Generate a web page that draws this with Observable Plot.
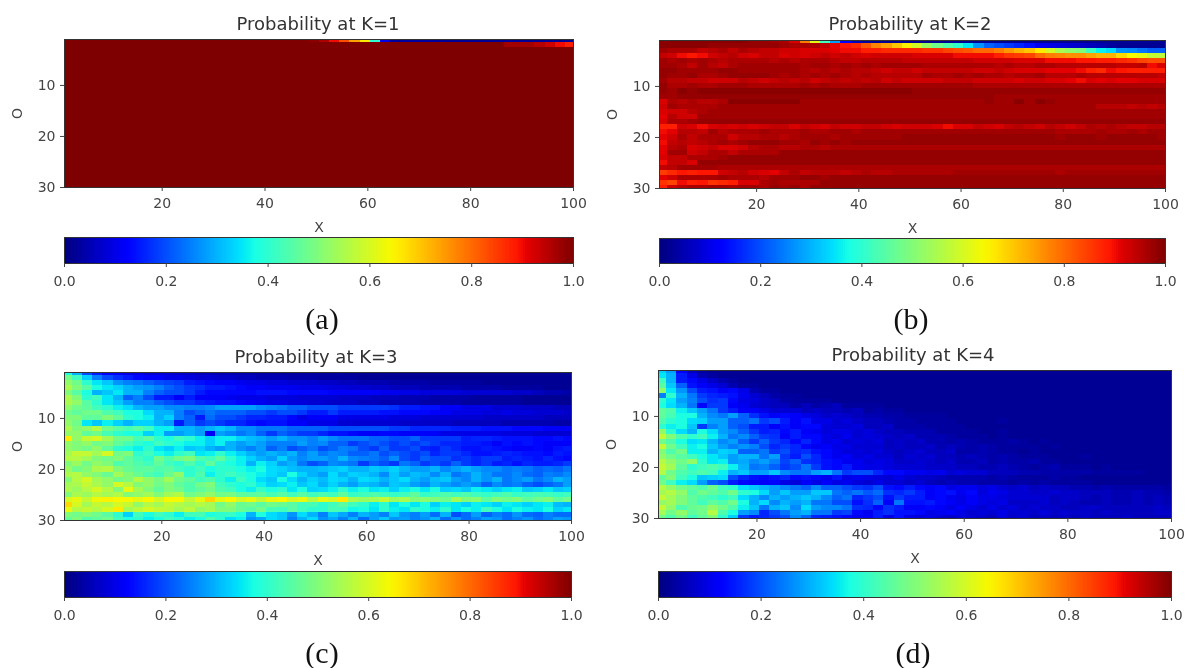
<!DOCTYPE html>
<html><head><meta charset="utf-8">
<script src="https://cdn.jsdelivr.net/npm/d3@7"></script>
<script src="https://cdn.jsdelivr.net/npm/@observablehq/plot@0.6"></script>
<style>
html,body{margin:0;padding:0;background:#fff}
#page{position:relative;width:1190px;height:668px;overflow:hidden;background:#fff;filter:blur(0.45px)}
#page svg{position:absolute;overflow:visible}
.t{position:absolute;font-family:"DejaVu Sans";font-size:18px;color:#333;transform:translateX(-50%);white-space:nowrap;line-height:1}
.c{position:absolute;font-family:"Liberation Serif";font-size:30px;color:#111;transform:translateX(-50%);line-height:1}
</style></head><body><div id="page"></div>
<script>
const xTicks=[20,40,60,80,100], yTicks=[10,20,30], barTicks=[0,0.2,0.4,0.6,0.8,1];
const titles=["Probability at K=1","Probability at K=2","Probability at K=3","Probability at K=4"];
const captions=["(a)","(b)","(c)","(d)"];
const solid=Array(50).fill(100);
const k1Rows=[
[100,100,100,100,100,100,100,100,100,100,100,100,100,100,100,100,100,100,100,100,100,100,100,100,99, 96,90,83,74,66,40,10,3,3,3,3,3,2,2,2,2,2,2,2,2,2,2,2,2,2],
[100,100,100,100,100,100,100,100,100,100,100,100,100,100,100,100,100,100,100,100,100,100,100,100,100, 100,100,100,100,100,100,100,100,100,100,100,100,100,100,100,100,100,100,97,97,97,95,93,90,88],
solid,solid,solid,solid,solid,solid,solid,solid,solid,solid,solid,solid,solid,solid,solid,solid,solid,solid,solid,solid,solid,solid,solid,solid,solid,solid,solid,solid];
const k2Rows=[
[99,99,99,99,99,99,99,99,99,98,98,97,96,92,78,62,42,28,12,6,3,2,2,2,2, 2,2,2,2,2,2,2,2,2,2,2,2,2,2,2,2,2,2,2,2,2,2,2,2,2],
[99,99,99,99,99,98,98,98,98,98,98,98,97,96,96,96,94,91,89,87,82,77,74,70,65, 60,53,48,44,40,35,27,22,20,18,16,14,11,10,9,8,7,6,5,3,2,2,2,2,2],
[97,96,96,96,94,95,96,94,96,95,94,94,93,93,92,92,92,91,90,90,88,88,87,87,87, 87,86,86,84,83,82,80,80,78,75,72,70,66,60,55,52,50,42,36,34,27,26,24,22,22],
[94,93,90,89,90,93,94,95,93,92,94,94,92,93,92,93,94,93,94,93,92,93,93,93,93, 92,92,92,92,90,90,90,90,88,86,85,84,80,78,77,76,76,74,72,72,68,64,62,58,57],
[97,96,97,96,97,96,95,96,96,96,96,95,96,95,96,96,96,95,94,94,95,95,95,95,94, 94,94,94,94,94,94,93,93,93,93,92,92,92,90,90,90,89,89,88,88,87,86,84,83,83],
[97,97,96,94,97,95,94,96,97,97,97,97,97,97,96,97,97,96,97,96,97,96,97,97,97, 97,96,96,96,96,96,96,96,95,96,95,95,96,96,95,95,95,95,95,95,94,94,95,90,92],
[98,98,97,97,97,97,98,98,97,97,97,97,97,97,96,95,96,95,96,95,95,94,93,94,94, 93,94,94,94,94,94,93,93,94,93,92,92,92,91,91,91,90,88,87,90,89,88,88,88,88],
[98,97,97,98,96,96,97,98,98,98,98,97,96,97,96,97,96,97,96,95,96,95,95,95,95, 95,97,96,96,97,96,97,96,96,95,96,96,97,95,95,95,96,95,95,95,95,95,95,95,94],
[97,95,95,94,94,93,93,93,95,94,93,94,95,94,95,93,94,95,94,95,94,95,93,94,93, 93,93,93,94,94,94,93,93,93,93,92,93,93,92,92,91,90,92,91,92,91,91,92,92,92],
[98,96,96,97,96,96,97,97,97,96,96,96,96,96,97,96,97,96,96,96,97,97,97,97,97, 97,97,97,97,97,97,96,96,96,96,96,96,96,96,96,96,96,96,96,96,96,96,96,96,96],
[98,97,99,98,99,99,99,99,99,99,99,99,99,99,99,99,99,99,99,99,99,99,99,99,99, 98,98,98,98,98,98,98,98,98,98,98,98,98,98,98,98,98,98,98,98,98,98,98,98,98],
[97,97,98,98,98,98,98,98,98,98,98,98,98,98,98,98,98,98,98,98,98,98,98,98,98, 98,98,98,98,98,98,98,98,97,97,97,97,97,97,97,97,97,97,97,97,97,97,97,97,97],
[92,96,95,96,95,95,96,99,99,99,99,99,99,99,97,97,97,97,97,97,97,97,97,97,97, 97,97,97,97,97,97,97,98,97,97,99,97,99,98,97,97,97,97,97,97,97,97,97,97,97],
[93,97,96,96,96,96,97,97,97,97,97,97,97,97,97,97,97,97,97,97,97,97,97,97,97, 97,97,97,97,97,97,97,97,97,97,97,97,97,97,97,97,97,97,95,95,95,94,95,94,95],
[92,93,93,95,96,97,97,97,97,97,97,97,97,97,97,97,97,97,97,97,97,97,97,97,97, 97,97,97,97,97,97,97,97,97,97,97,97,97,97,97,97,97,97,97,97,97,97,97,97,97],
[91,95,93,93,97,97,97,97,97,97,97,97,97,97,97,97,97,97,97,97,97,97,97,97,97, 97,97,97,97,97,97,97,97,97,97,97,97,97,97,97,97,97,97,97,97,97,97,97,97,97],
[92,96,96,97,98,98,98,98,98,98,98,98,98,98,98,98,98,98,98,98,98,98,98,98,98, 98,98,98,98,98,98,98,98,98,98,98,98,98,98,98,98,98,98,98,98,98,98,98,98,98],
[88,88,93,92,90,92,93,92,93,92,93,94,94,92,94,93,92,94,93,93,94,94,93,92,93, 93,93,92,90,92,92,94,93,92,94,95,94,93,95,94,93,94,96,95,96,95,94,94,95,95],
[90,91,95,95,94,97,95,96,96,96,97,96,96,96,97,96,96,97,97,96,97,97,97,97,97, 97,97,97,97,97,97,97,97,97,97,97,97,97,97,96,96,96,96,97,96,96,97,96,97,97],
[91,93,96,94,96,96,96,93,95,95,96,96,95,96,97,97,97,96,97,97,97,97,97,97,98, 98,98,98,98,98,98,98,98,98,98,98,98,98,98,97,98,98,98,97,98,98,98,98,98,97],
[90,94,95,94,95,96,97,96,97,98,98,98,97,97,96,98,97,98,97,98,98,98,98,98,98, 98,98,98,98,98,98,98,98,98,98,98,98,98,98,98,98,98,98,98,98,98,98,98,98,98],
[91,95,96,92,93,94,92,92,93,95,96,96,95,95,96,96,95,96,96,96,96,96,96,96,96, 96,96,96,96,96,96,96,96,96,96,96,96,96,96,96,96,96,96,96,96,96,96,96,96,96],
[91,97,97,93,94,96,96,94,96,96,96,96,98,98,98,98,98,98,98,98,98,98,98,98,98, 98,98,98,98,98,98,98,98,98,98,98,98,98,98,98,98,98,98,98,98,98,98,98,98,98],
[92,94,94,96,96,96,97,98,98,98,98,98,98,98,98,98,98,98,98,98,98,98,98,98,98, 98,98,98,98,98,98,98,98,98,98,98,98,98,98,98,98,98,98,98,98,98,98,98,98,98],
[90,94,94,92,98,98,98,98,98,98,98,98,98,98,98,98,98,98,98,98,98,98,98,98,98, 98,98,98,98,98,98,98,98,98,98,98,98,98,98,98,98,98,98,98,98,98,98,98,98,98],
[94,95,97,97,97,97,96,96,96,96,96,96,96,96,96,96,96,96,96,96,96,96,96,96,96, 96,96,96,96,96,96,96,96,96,96,96,96,96,96,96,96,96,96,96,96,96,96,96,96,96],
[85,87,89,88,89,89,93,94,95,93,92,91,94,96,94,95,95,95,94,95,96,95,95,96,96, 96,96,96,96,97,97,97,97,97,97,97,97,97,97,96,97,97,97,97,97,97,97,97,97,97],
[91,93,96,96,96,96,97,96,96,96,95,97,97,97,98,98,97,98,98,98,98,98,98,98,98, 98,98,98,98,98,98,98,98,98,98,98,98,98,98,98,98,98,98,98,98,98,98,98,98,98],
[86,84,90,88,89,86,87,88,92,92,96,97,96,96,96,96,98,98,98,98,98,98,98,98,98, 98,98,98,98,98,98,98,98,98,98,98,98,98,98,98,98,98,98,98,98,98,98,98,98,98],
[88,93,95,96,96,97,97,96,97,97,96,98,97,98,96,98,98,98,98,98,98,98,98,98,98, 98,98,98,98,98,98,98,98,98,98,98,98,98,98,98,98,98,98,98,98,98,98,98,98,98]];
const k3Rows=[
[38,30,20,15,12,12,10,10,8,8,8,7,7,6,6,5,5,5,4,4,4,3,3,3,3, 3,3,3,2,2,2,2,2,2,2,2,2,2,2,2,2,2,2,2,2,2,2,2,2,2],
[48,42,33,25,20,17,15,13,12,12,10,10,9,8,8,7,7,6,6,5,5,5,4,4,4, 3,3,3,3,2,2,2,2,2,2,2,2,2,2,2,2,2,2,2,2,2,2,2,2,2],
[52,48,40,35,32,27,25,24,22,20,19,18,15,14,13,12,12,11,10,10,9,9,8,8,8, 7,7,6,6,5,5,5,4,4,4,4,3,3,3,3,3,2,2,2,2,2,2,2,2,2],
[55,50,45,38,35,33,30,28,27,25,22,20,18,17,15,15,14,13,12,12,11,11,11,10,10, 10,9,9,8,8,7,7,6,6,6,5,5,5,5,4,4,4,4,3,3,3,3,2,2,2],
[50,45,38,30,32,35,30,30,25,22,20,20,18,15,13,13,13,13,13,14,14,14,13,13,13, 13,12,12,12,12,12,11,11,10,10,9,9,9,9,8,8,8,8,8,7,7,6,5,5,4],
[55,50,40,42,35,30,22,25,20,15,15,12,15,12,12,12,11,10,10,10,9,9,9,8,8, 8,8,7,7,7,6,6,6,5,5,5,4,4,4,4,3,3,3,3,3,2,2,2,2,2],
[55,52,45,40,35,32,28,25,25,22,20,18,18,16,15,14,14,13,12,11,10,10,9,9,8, 8,7,7,7,6,6,5,5,5,5,4,4,4,4,3,3,3,3,3,3,2,2,2,2,2],
[52,48,46,42,40,36,34,30,28,28,26,26,25,25,26,28,28,28,28,26,25,24,22,22,20, 20,20,18,18,18,18,18,17,15,15,14,14,12,12,10,10,10,8,8,8,7,7,7,6,6],
[48,46,48,48,44,42,38,38,34,30,30,25,20,22,24,22,22,22,20,20,18,20,20,18,15, 15,18,15,15,15,15,14,14,13,13,13,12,12,10,10,10,9,9,10,9,9,8,8,8,7],
[50,50,46,46,50,46,40,38,36,30,33,25,22,15,23,20,20,18,16,16,15,15,13,10,12, 12,12,10,10,10,10,10,9,9,9,8,8,8,8,8,8,7,7,7,7,7,7,6,6,6],
[52,48,35,32,36,33,30,33,33,30,28,15,22,18,20,18,16,16,14,13,14,14,12,12,10, 10,10,8,8,8,8,8,8,7,7,7,7,7,6,6,6,6,6,5,5,5,5,5,4,4],
[55,50,52,56,48,45,43,45,42,36,36,30,30,28,30,32,30,26,26,24,24,24,22,22,22, 22,20,20,20,20,20,20,18,18,16,16,16,16,15,15,15,14,14,14,13,13,13,12,12,12],
[52,52,46,48,43,40,38,38,33,36,28,28,30,28,12,28,26,24,26,22,18,22,20,18,18, 16,14,14,13,12,12,13,13,12,12,12,12,10,10,10,10,10,10,9,9,9,8,8,8,8],
[66,52,58,60,54,48,48,43,46,40,38,42,40,36,33,36,36,33,31,30,28,30,27,27,25, 28,26,24,24,24,22,22,20,20,22,18,18,18,18,15,16,16,15,14,14,14,13,13,14,13],
[52,50,52,48,50,46,43,40,38,42,40,38,36,36,33,36,30,28,30,28,25,25,25,28,25, 26,22,22,18,20,22,20,18,20,18,20,18,16,16,15,15,14,12,14,13,14,13,12,12,12],
[52,50,48,52,46,40,38,36,40,35,33,36,32,33,30,28,30,27,25,28,22,25,20,22,24, 20,22,25,24,20,18,22,18,18,20,16,15,18,16,14,14,15,14,13,12,12,13,12,14,15],
[54,58,58,54,60,48,50,40,42,38,36,40,42,35,36,40,36,33,30,28,30,28,30,25,28, 24,26,25,22,22,24,20,22,20,18,20,16,18,18,16,14,14,15,16,15,14,14,13,15,14],
[56,56,54,50,48,50,46,42,40,48,44,48,50,44,42,46,40,36,33,30,28,33,28,26,28, 28,26,30,26,25,24,22,26,20,18,22,20,20,17,18,16,18,18,15,16,15,14,16,14,13],
[50,53,48,52,50,44,46,44,42,46,42,40,44,40,46,40,38,36,30,36,33,28,30,24,20, 22,26,25,24,18,22,20,18,24,22,18,20,18,22,18,16,18,15,16,14,16,15,15,16,18],
[53,48,50,55,56,50,47,45,46,44,45,42,40,42,38,40,40,38,36,38,34,33,31,30,30, 31,32,33,30,30,32,31,33,30,28,28,30,26,28,30,28,26,26,24,25,24,22,23,22,24],
[55,56,52,50,47,54,50,47,44,42,47,52,40,44,36,40,42,40,38,36,34,32,38,33,30, 28,34,30,33,32,30,26,32,28,31,30,26,30,24,26,30,27,24,24,26,23,22,25,24,26],
[50,56,60,54,52,48,50,56,52,49,54,48,46,42,44,40,36,42,38,34,32,38,34,30,33, 31,34,33,30,34,33,30,32,34,30,28,31,32,28,26,30,27,30,24,26,28,24,26,30,28],
[54,55,58,55,52,60,56,50,52,48,50,46,44,48,50,42,40,38,40,36,33,34,36,32,34, 30,33,30,28,31,30,28,32,31,28,26,30,28,26,28,26,22,26,24,25,22,20,22,24,28],
[55,53,56,60,56,50,62,54,50,46,50,48,44,46,48,44,42,38,36,41,38,40,35,38,33, 34,36,40,36,38,35,36,33,36,38,35,38,33,34,32,36,35,33,35,36,32,33,35,32,33],
[50,55,53,56,54,56,50,52,54,50,54,56,48,50,52,48,49,46,45,46,43,45,42,45,42, 44,42,46,41,42,44,42,41,42,46,41,42,44,42,44,42,41,42,44,41,42,43,42,41,42],
[60,62,58,63,65,64,64,62,64,60,64,64,58,62,68,62,64,60,62,58,62,64,60,62,56, 62,60,66,55,53,54,58,53,55,50,51,50,48,54,50,51,46,50,48,50,46,48,50,46,48],
[68,60,54,58,56,60,58,52,56,54,58,56,54,56,54,48,52,47,48,45,48,47,45,42,43, 40,42,45,42,40,36,40,35,38,35,38,33,36,35,33,36,35,33,36,35,33,35,36,31,30],
[62,56,58,56,60,66,54,57,60,58,57,54,57,52,54,50,50,47,45,48,43,42,45,42,40, 40,43,42,37,38,35,40,36,35,40,38,36,40,35,38,36,42,38,35,38,36,35,38,33,35],
[50,48,50,48,45,40,33,42,38,42,40,36,42,43,38,40,41,38,30,38,34,32,27,34,30, 25,32,29,25,30,28,25,32,27,25,28,23,30,20,23,28,22,25,23,27,23,22,25,23,23],
[46,50,44,46,48,42,38,40,36,38,42,40,36,38,44,40,34,36,27,29,34,32,25,30,34, 27,29,25,30,23,28,32,27,28,25,27,30,23,27,23,25,28,27,23,25,27,23,25,28,27]];
const k4Rows=[
[33,28,12,6,3,2,2,2,2,2,2,2,2,2,2,2,2,2,2,2,2,2,2,2,2, 2,2,2,2,2,2,2,2,2,2,2,2,2,2,2,2,2,2,2,2,2,2,2,2,2],
[35,30,15,10,5,3,2,2,2,2,2,2,2,2,2,2,2,2,2,2,2,2,2,2,2, 2,2,2,2,2,2,2,2,2,2,2,2,2,2,2,2,2,2,2,2,2,2,2,2,2],
[42,30,15,13,10,7,5,3,2,2,2,2,2,2,2,2,2,2,2,2,2,2,2,2,2, 2,2,2,2,2,2,2,2,2,2,2,2,2,2,2,2,2,2,2,2,2,2,2,2,2],
[45,32,22,14,12,10,8,5,3,3,2,2,2,2,2,2,2,2,2,2,2,2,2,2,2, 2,2,2,2,2,2,2,2,2,2,2,2,2,2,2,2,2,2,2,2,2,2,2,2,2],
[52,35,27,20,15,14,12,13,10,5,3,3,2,2,2,2,2,2,2,2,2,2,2,2,2, 2,2,2,2,2,2,2,2,2,2,2,2,2,2,2,2,2,2,2,2,2,2,2,2,2],
[25,40,30,24,18,16,15,14,11,8,6,4,3,3,2,2,2,2,2,2,2,2,2,2,2, 2,2,2,2,2,2,2,2,2,2,2,2,2,2,2,2,2,2,2,2,2,2,2,2,2],
[40,35,28,25,20,17,18,13,10,9,7,6,4,3,3,3,3,2,2,2,2,2,2,2,2, 2,2,2,2,2,2,2,2,2,2,2,2,2,2,2,2,2,2,2,2,2,2,2,2,2],
[38,34,30,24,13,18,18,12,11,8,7,6,6,4,6,4,5,6,3,3,3,3,2,2,2, 2,2,2,2,2,2,2,2,2,2,2,2,2,2,2,2,2,2,2,2,2,2,2,2,2],
[46,44,36,32,28,24,18,15,12,12,10,8,8,8,6,7,6,6,5,6,3,4,3,3,2, 2,2,2,2,2,2,2,2,2,2,2,2,2,2,2,2,2,2,2,2,2,2,2,2,2],
[46,43,38,38,30,26,24,28,22,17,14,12,13,12,10,9,7,8,7,6,5,5,4,4,3, 3,3,3,2,2,2,2,2,2,2,2,2,2,2,2,2,2,2,2,2,2,2,2,2,2],
[44,40,38,34,33,28,28,22,22,24,18,20,15,12,14,10,10,8,9,7,6,6,5,4,4, 3,3,3,3,2,2,2,2,3,2,2,2,2,2,2,2,2,2,2,2,2,2,2,2,2],
[40,36,38,32,18,25,28,22,20,15,15,12,14,12,13,13,9,8,8,9,6,6,7,4,4, 4,3,3,3,3,2,2,2,2,2,2,2,2,2,2,2,2,2,2,2,2,2,2,2,2],
[52,40,34,30,38,34,28,26,22,18,15,16,13,15,12,11,9,10,10,8,9,7,6,6,5, 5,5,3,3,3,3,2,2,3,2,2,2,2,2,2,2,2,2,2,2,2,2,2,2,2],
[58,50,44,40,42,36,30,24,26,22,18,17,12,15,13,13,10,9,11,8,9,8,7,6,7, 5,5,5,4,3,3,3,2,3,2,2,2,2,2,2,2,2,2,2,2,2,2,2,2,2],
[48,44,38,34,35,30,26,28,22,18,22,18,16,13,16,13,10,11,8,9,8,9,6,7,6, 7,5,5,4,5,4,3,3,3,4,3,2,3,2,2,2,2,2,2,2,2,2,2,2,2],
[58,48,42,36,38,32,28,25,27,25,20,16,18,16,13,11,12,10,10,8,8,8,6,7,6, 6,7,5,6,5,4,5,4,3,3,3,3,2,3,2,2,2,2,2,2,2,2,2,2,2],
[50,44,48,36,36,30,33,32,22,22,24,18,20,16,17,14,13,11,9,9,8,9,7,6,7, 8,6,6,7,4,4,5,4,3,3,2,3,2,2,2,2,2,2,2,2,2,2,2,2,2],
[52,48,45,42,38,35,32,28,30,30,24,28,18,15,20,16,13,11,12,9,10,8,8,6,8, 7,8,6,6,5,6,5,4,5,4,3,3,3,2,2,2,3,2,2,2,2,2,2,2,2],
[56,52,48,52,40,35,36,28,29,26,28,25,19,22,17,16,14,13,11,11,9,10,9,7,7, 8,7,6,7,5,5,6,4,5,4,4,5,3,3,2,2,2,2,2,2,2,2,2,2,2],
[58,54,46,40,42,44,42,36,30,24,25,22,18,20,24,18,14,13,15,11,10,10,9,8,8, 8,7,7,7,6,6,5,5,6,5,4,3,4,5,3,3,3,2,3,2,2,2,2,2,2],
[56,48,44,42,44,42,36,30,32,28,28,32,26,24,24,28,30,24,18,20,20,16,13,13,11, 11,10,11,8,9,8,8,6,6,6,5,5,4,4,4,4,4,3,3,3,3,3,2,2,2],
[46,50,42,38,32,33,34,20,16,14,13,14,16,13,14,13,11,14,10,11,10,9,8,10,8, 7,7,6,5,5,5,5,4,5,4,3,3,3,4,3,3,2,2,2,2,2,2,2,2,2],
[48,42,36,34,28,22,20,15,13,12,12,13,10,9,12,10,12,10,11,9,8,10,8,8,7, 8,6,5,6,5,5,4,4,4,3,4,3,4,3,3,3,3,2,2,2,2,2,2,2,2],
[56,52,48,46,44,48,42,40,34,32,30,28,26,24,22,26,22,22,20,18,17,20,14,13,15, 13,12,13,10,11,11,9,10,8,7,8,6,7,6,6,5,5,4,5,4,4,4,4,4,3],
[54,56,52,44,48,46,44,48,40,38,34,28,32,28,28,32,32,24,22,24,21,23,17,16,18, 15,12,13,14,11,13,9,11,10,8,8,7,7,8,7,7,6,6,6,5,5,6,5,5,4],
[58,54,50,46,44,42,40,42,34,30,26,30,28,30,32,30,26,22,24,16,18,20,14,18,15, 15,12,13,11,10,12,10,10,9,8,8,8,8,6,7,7,6,5,6,5,5,6,5,6,5],
[52,54,50,46,42,46,44,48,38,30,34,26,30,28,30,24,24,20,20,14,17,22,12,24,14, 14,15,13,12,10,12,10,9,10,7,7,7,8,6,7,6,5,5,6,5,5,6,5,6,5],
[58,52,44,47,48,52,48,44,36,32,24,30,32,26,34,28,26,26,24,17,16,13,17,15,12, 12,13,12,10,12,10,8,10,8,9,7,8,7,7,6,6,7,7,6,6,6,6,6,7,6],
[54,48,52,46,48,56,44,38,28,26,16,20,24,28,30,24,24,18,19,13,11,15,17,14,14, 13,10,11,12,10,8,9,8,10,8,8,7,9,7,8,7,7,6,7,6,6,6,6,7,7],
[48,44,48,42,46,50,40,33,18,15,16,18,20,26,22,16,15,14,13,11,12,15,10,14,10, 9,10,8,7,9,8,7,6,9,7,8,6,7,6,7,6,7,6,6,6,7,6,6,6,6]];
const panels=[k1Rows,k2Rows,k3Rows,k4Rows];

const jet=d3.scaleLinear()
 .domain([0,.11,.125,.34,.35,.375,.64,.66,.89,.91,1])
 .range(["#00007f","#0000f1","#0000ff","#00dcff","#00e8f5","#19ffe5","#f6f900","#ffeb00","#ff1600","#e40000","#7f0000"]);
const colorOpt={type:"linear",domain:[0,1],interpolate:t=>jet(t)};

const layout=[
 {l:64,r:573,t:39,b:187,cT:237,cB:263,tx:318,ty:15,capx:322,capy:304},
 {l:659,r:1165,t:40,b:188,cT:238,cB:263,tx:910,ty:15,capx:911,capy:304},
 {l:64,r:571,t:372,b:520,cT:571,cB:597,tx:316,ty:348,capx:322,capy:638},
 {l:658,r:1171,t:370,b:518,cT:571,cB:597,tx:913,ty:346,capx:913,capy:638}];
const page=document.getElementById("page");
const textStyle={fontFamily:"DejaVu Sans",fontSize:"14px",color:"#444",background:"transparent"};

panels.forEach((rows,p)=>{
 const g=layout[p];
 const cells=rows.flatMap((row,i)=>row.map((v,j)=>({x1:2*j+0.5,x2:2*j+2.5,y1:i+0.5,y2:i+1.5,v:v/100})));
 const heat=Plot.plot({
  width:g.r-g.l+110,height:g.b-g.t+62,
  marginLeft:60,marginRight:50,marginTop:10,marginBottom:52,
  style:textStyle,
  x:{domain:[1,100]},
  y:{domain:[1,30],reverse:true},
  color:colorOpt,
  marks:[
   Plot.rect(cells,{x1:"x1",x2:"x2",y1:"y1",y2:"y2",fill:"v",clip:true,shapeRendering:"crispEdges"}),
   Plot.frame({stroke:"#333",strokeWidth:1}),
   Plot.axisX({ticks:xTicks,tickSize:4,tickPadding:7,label:"X",labelAnchor:"center",labelArrow:"none",labelOffset:44,tickFormat:d=>String(d)}),
   Plot.axisY({ticks:yTicks,tickSize:4,tickPadding:5,label:"O",labelAnchor:"center",labelArrow:"none",labelOffset:52,tickFormat:d=>String(d)})
  ]});
 heat.style.left=(g.l-60)+"px";heat.style.top=(g.t-10)+"px";
 page.appendChild(heat);
 const levels=d3.range(256);
 const bar=Plot.plot({
  width:g.r-g.l+60,height:g.cB-g.cT+32,
  marginLeft:30,marginRight:30,marginTop:2,marginBottom:30,
  style:textStyle,
  x:{domain:[0,1]},y:{domain:[0,1],axis:null},
  color:colorOpt,
  marks:[
   Plot.rect(levels,{x1:d=>d/256,x2:d=>(d+1)/256,y1:0,y2:1,fill:d=>(d+.5)/256,shapeRendering:"crispEdges"}),
   Plot.frame({stroke:"#333",strokeWidth:1}),
   Plot.axisX({ticks:barTicks,tickSize:4,tickPadding:9,label:null,tickFormat:d3.format(".1f")})
  ]});
 bar.style.left=(g.l-30)+"px";bar.style.top=(g.cT-2)+"px";
 page.appendChild(bar);
 const t=document.createElement("div");t.className="t";t.textContent=titles[p];t.style.left=g.tx+"px";t.style.top=g.ty+"px";page.appendChild(t);
 const c=document.createElement("div");c.className="c";c.textContent=captions[p];c.style.left=g.capx+"px";c.style.top=g.capy+"px";page.appendChild(c);
});
</script></body></html>
